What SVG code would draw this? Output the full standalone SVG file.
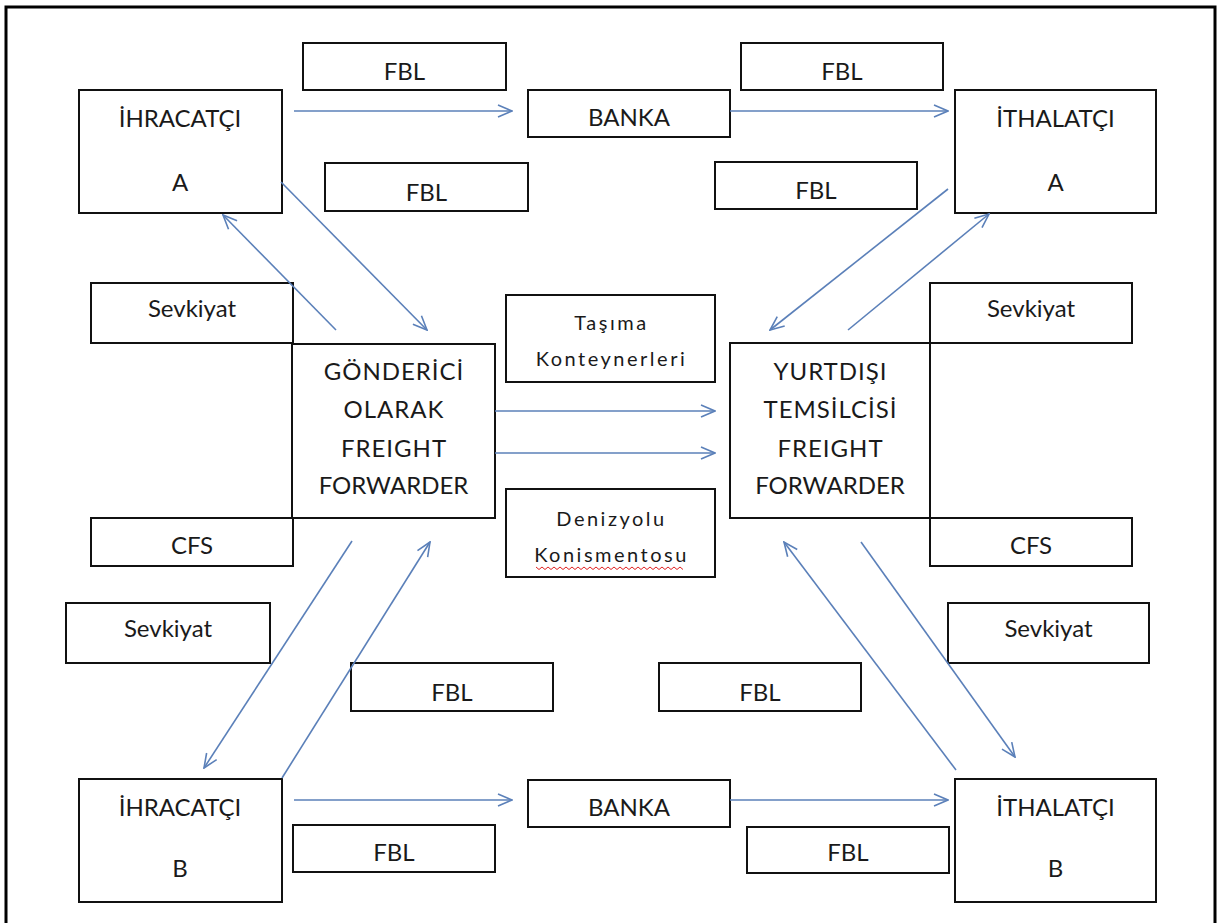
<svg xmlns="http://www.w3.org/2000/svg" width="1223" height="923" viewBox="0 0 1223 923">
<style>
.box{fill:#fff;stroke:#111;stroke-width:2}
.t{font-family:Lato,'Liberation Sans',sans-serif;font-size:24px;fill:#1a1a1a;text-anchor:middle}
.w{letter-spacing:1px}
.s{font-size:20px;letter-spacing:2.5px}
.c{stroke:#5b80b9;stroke-width:1.6;fill:none;marker-end:url(#ah)}
</style>
<defs>
<marker id="ah" markerUnits="userSpaceOnUse" viewBox="0 0 16 14" markerWidth="16" markerHeight="14" refX="15" refY="7" orient="auto">
<path d="M1,1 L15,7 L1,13" fill="none" stroke="#5b80b9" stroke-width="1.6"/>
</marker>
</defs>
<rect x="0" y="0" width="1223" height="923" fill="#fff"/>
<rect x="6" y="7" width="1209" height="940" fill="none" stroke="#000" stroke-width="3"/>

<g id="ihracatciA"><rect class="box" x="79" y="90" width="203" height="123"/><text class="t" x="180" y="126.5">İHRACATÇI</text><text class="t" x="180" y="190.5">A</text></g>
<g id="fbl1"><rect class="box" x="303" y="43" width="203" height="47"/><text class="t" x="404.5" y="80">FBL</text></g>
<g id="banka1"><rect class="box" x="528" y="90" width="202" height="47"/><text class="t" x="629" y="125.5">BANKA</text></g>
<g id="fbl2"><rect class="box" x="741" y="43" width="202" height="47"/><text class="t" x="842" y="80">FBL</text></g>
<g id="ithalatciA"><rect class="box" x="955" y="90" width="201" height="123"/><text class="t" x="1055.5" y="126.5">İTHALATÇI</text><text class="t" x="1055.5" y="190.5">A</text></g>
<g id="fbl3"><rect class="box" x="325" y="163" width="203" height="48"/><text class="t" x="426.5" y="200.5">FBL</text></g>
<g id="fbl4"><rect class="box" x="715" y="162" width="202" height="47"/><text class="t" x="816" y="198.5">FBL</text></g>
<g id="sevkiyat1"><rect class="box" x="91" y="283" width="202" height="60"/><text class="t" x="192" y="316.5">Sevkiyat</text></g>
<g id="sevkiyat2"><rect class="box" x="930" y="283" width="202" height="60"/><text class="t" x="1031" y="316.5">Sevkiyat</text></g>
<g id="tasima"><rect class="box" x="506" y="295" width="209" height="87"/><text class="t s" x="611.5" y="330">Taşıma</text><text class="t s" x="611.5" y="366">Konteynerleri</text></g>
<g id="gonderici"><rect class="box" x="292" y="344" width="203" height="174"/><text class="t w" x="394" y="380">GÖNDERİCİ</text><text class="t w" x="394" y="418">OLARAK</text><text class="t w" x="394" y="457">FREIGHT</text><text class="t" x="393.5" y="494">FORWARDER</text></g>
<g id="yurtdisi"><rect class="box" x="730" y="343" width="200" height="175"/><text class="t w" x="830.5" y="380">YURTDIŞI</text><text class="t w" x="830.5" y="418">TEMSİLCİSİ</text><text class="t w" x="830.5" y="457">FREIGHT</text><text class="t" x="830" y="494">FORWARDER</text></g>
<g id="cfs1"><rect class="box" x="91" y="518" width="202" height="48"/><text class="t" x="192" y="553.5">CFS</text></g>
<g id="cfs2"><rect class="box" x="930" y="518" width="202" height="48"/><text class="t" x="1031" y="553.5">CFS</text></g>
<g id="denizyolu"><rect class="box" x="506" y="489" width="209" height="88"/><text class="t s" x="611.5" y="526">Denizyolu</text><text class="t s" x="611.5" y="562">Konismentosu</text><path d="M536,567 l3,2.5 l3,-2.5 l3,2.5 l3,-2.5 l3,2.5 l3,-2.5 l3,2.5 l3,-2.5 l3,2.5 l3,-2.5 l3,2.5 l3,-2.5 l3,2.5 l3,-2.5 l3,2.5 l3,-2.5 l3,2.5 l3,-2.5 l3,2.5 l3,-2.5 l3,2.5 l3,-2.5 l3,2.5 l3,-2.5 l3,2.5 l3,-2.5 l3,2.5 l3,-2.5 l3,2.5 l3,-2.5 l3,2.5 l3,-2.5 l3,2.5 l3,-2.5 l3,2.5 l3,-2.5 l3,2.5 l3,-2.5 l3,2.5 l3,-2.5 l3,2.5 l3,-2.5 l3,2.5 l3,-2.5 l3,2.5 l3,-2.5 l3,2.5 l3,-2.5 l3,2.5" fill="none" stroke="#e02020" stroke-width="1"/></g>
<g id="sevkiyat3"><rect class="box" x="66" y="603" width="204" height="60"/><text class="t" x="168" y="636.5">Sevkiyat</text></g>
<g id="sevkiyat4"><rect class="box" x="948" y="603" width="201" height="60"/><text class="t" x="1048.5" y="636.5">Sevkiyat</text></g>
<g id="fbl5"><rect class="box" x="351" y="663" width="202" height="48"/><text class="t" x="452" y="700.5">FBL</text></g>
<g id="fbl6"><rect class="box" x="659" y="663" width="202" height="48"/><text class="t" x="760" y="700.5">FBL</text></g>
<g id="ihracatciB"><rect class="box" x="79" y="779" width="203" height="123"/><text class="t" x="180" y="815.5">İHRACATÇI</text><text class="t" x="180" y="876.5">B</text></g>
<g id="banka2"><rect class="box" x="528" y="780" width="202" height="47"/><text class="t" x="629" y="815.5">BANKA</text></g>
<g id="ithalatciB"><rect class="box" x="955" y="779" width="201" height="123"/><text class="t" x="1055.5" y="815.5">İTHALATÇI</text><text class="t" x="1055.5" y="876.5">B</text></g>
<g id="fbl7"><rect class="box" x="293" y="825" width="202" height="47"/><text class="t" x="394" y="860.5">FBL</text></g>
<g id="fbl8"><rect class="box" x="747" y="827" width="202" height="46"/><text class="t" x="848" y="860.5">FBL</text></g>

<g id="connectors">
<line class="c" x1="294" y1="111" x2="512" y2="111"/>
<line class="c" x1="730" y1="111" x2="948" y2="111"/>
<line class="c" x1="495" y1="411" x2="715" y2="411"/>
<line class="c" x1="495" y1="453" x2="715" y2="453"/>
<line class="c" x1="294" y1="800" x2="512" y2="800"/>
<line class="c" x1="730" y1="800" x2="948" y2="800"/>
<line class="c" x1="281" y1="182" x2="427" y2="330"/>
<line class="c" x1="336" y1="330" x2="223" y2="215"/>
<line class="c" x1="948" y1="189" x2="770" y2="330"/>
<line class="c" x1="848" y1="330" x2="989" y2="214"/>
<line class="c" x1="352" y1="541" x2="204" y2="768"/>
<line class="c" x1="282" y1="778" x2="430" y2="542"/>
<line class="c" x1="861" y1="542" x2="1015" y2="757"/>
<line class="c" x1="956" y1="770" x2="784" y2="542"/>
</g>
</svg>
